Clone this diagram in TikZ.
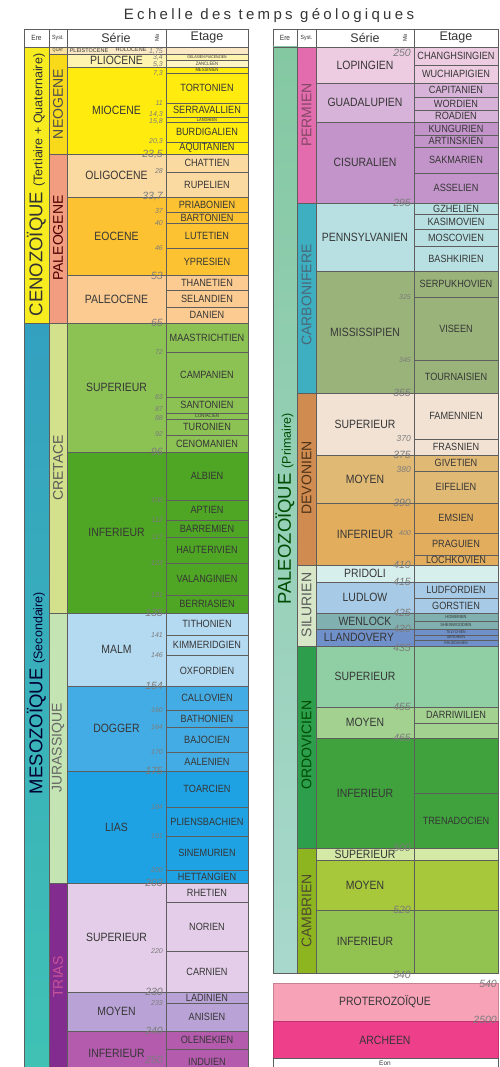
\documentclass[tikz,border=0pt]{standalone}
\usepackage{fontspec}
\setmainfont{Liberation Sans}
\newfontfamily\narrowf[FakeStretch=0.87]{Liberation Sans}
\newfontfamily\titlef[LetterSpace=22]{Liberation Sans}
\definecolor{lineC}{HTML}{5E5E5E}
\definecolor{txtC}{HTML}{363636}
\definecolor{numC}{HTML}{7C7C7C}
\definecolor{titleC}{HTML}{363636}
% left
\definecolor{eCen}{HTML}{F7EC1F}
\definecolor{eMesT}{HTML}{33A0C0}
\definecolor{eMesB}{HTML}{40C2B4}
\definecolor{sQuat}{HTML}{FBE1A0}
\definecolor{sNeo}{HTML}{F8DA1A}
\definecolor{sPaleo}{HTML}{F29C80}
\definecolor{sCret}{HTML}{D3E18C}
\definecolor{sJur}{HTML}{C4E4B4}
\definecolor{sTrias}{HTML}{822C90}
\definecolor{rQS}{HTML}{FBE9C6}
\definecolor{rPlio}{HTML}{FFF3B0}
\definecolor{rZan}{HTML}{FFF6C4}
\definecolor{rMio}{HTML}{FFEC0E}
\definecolor{rOlig}{HTML}{FBDAA2}
\definecolor{rEoc}{HTML}{FCC232}
\definecolor{rPaleoc}{HTML}{FBCB92}
\definecolor{rKs}{HTML}{8CC154}
\definecolor{rKi}{HTML}{4FA524}
\definecolor{rMalm}{HTML}{B4DAF2}
\definecolor{rDog}{HTML}{44ACE4}
\definecolor{rLias}{HTML}{1EA2E4}
\definecolor{rTs}{HTML}{E4CDE8}
\definecolor{rTm}{HTML}{B9A3D6}
\definecolor{rTi}{HTML}{B45BAE}
% right
\definecolor{ePalT}{HTML}{84C8A2}
\definecolor{ePalB}{HTML}{A8D8CC}
\definecolor{sPerm}{HTML}{E26CAE}
\definecolor{sCarb}{HTML}{3DAFC0}
\definecolor{sDev}{HTML}{D08B50}
\definecolor{sSil}{HTML}{D8E7C8}
\definecolor{sOrd}{HTML}{2C9E4C}
\definecolor{sCamb}{HTML}{8DB520}
\definecolor{rLop}{HTML}{EDCCE2}
\definecolor{rGua}{HTML}{D8B3D9}
\definecolor{rCis}{HTML}{C394CA}
\definecolor{rPen}{HTML}{B8E0E2}
\definecolor{rMis}{HTML}{9AB37A}
\definecolor{rDs}{HTML}{F1E2D4}
\definecolor{rDm}{HTML}{E0B974}
\definecolor{rDi}{HTML}{E2AE5E}
\definecolor{rPri}{HTML}{D7EFEC}
\definecolor{rLud}{HTML}{A7CBE6}
\definecolor{rWen}{HTML}{80B0AF}
\definecolor{rLla}{HTML}{7090CA}
\definecolor{rOs}{HTML}{8FCFA3}
\definecolor{rOm}{HTML}{A3D18F}
\definecolor{rOi}{HTML}{3FA23C}
\definecolor{rCs}{HTML}{D4E9A6}
\definecolor{rCm}{HTML}{A8C83C}
\definecolor{rCi}{HTML}{92C24F}
\definecolor{rProt}{HTML}{F7A2B7}
\definecolor{rArch}{HTML}{EE3F8B}

\newcounter{cellno}
\newcommand\cell[7]{\stepcounter{cellno}\filldraw[grid,fill=#5] (#1,#3) rectangle (#2,#4); \node[#7] (c\arabic{cellno}) at ({(#1+#2)/2},{(#3+#4)/2}) {#6};}
\newcommand\LS[4]{\cell{67}{166}{#1}{#2}{#3}{#4}{ser}}
\newcommand\LE[4]{\cell{166}{248}{#1}{#2}{#3}{#4}{etg}}
\newcommand\LT[5]{\cell{166}{248}{#1}{#2}{#3}{#4}{etg,font=\narrowf\fontsize{#5}{#5}\selectfont}}
\newcommand\RS[4]{\cell{316}{414}{#1}{#2}{#3}{#4}{ser}}
\newcommand\RE[4]{\cell{414}{498}{#1}{#2}{#3}{#4}{etg}}
\newcommand\RT[5]{\cell{414}{498}{#1}{#2}{#3}{#4}{etg,font=\narrowf\fontsize{#5}{#5}\selectfont}}
\newcommand\LN[2]{\stepcounter{cellno}\node[num] (n\arabic{cellno}) at (163,#1) {#2};}
\newcommand\LM[2]{\stepcounter{cellno}\node[numM] (n\arabic{cellno}) at (163,#1) {#2};}
\newcommand\RN[2]{\stepcounter{cellno}\node[num] (n\arabic{cellno}) at (411,#1) {#2};}
\newcommand\RQ[2]{\stepcounter{cellno}\node[numQ] (n\arabic{cellno}) at (411,#1) {#2};}
\newcommand\RM[2]{\stepcounter{cellno}\node[numM] (n\arabic{cellno}) at (411,#1) {#2};}

\tikzset{
  x=1pt, y=-1pt,
  grid/.style={draw=lineC, line width=0.55pt},
  ser/.style={font=\narrowf\fontsize{12}{12}\selectfont, text=txtC, inner sep=0pt},
  etg/.style={font=\narrowf\fontsize{10.5}{10.5}\selectfont, text=txtC, inner sep=0pt},
  num/.style={font=\itshape\fontsize{7}{7}\selectfont, text=numC, anchor=east, inner sep=0pt},
  numQ/.style={font=\itshape\fontsize{8.5}{8.5}\selectfont, text=numC, anchor=east, inner sep=0pt},
  numM/.style={font=\itshape\fontsize{10.5}{10.5}\selectfont, text=numC, anchor=east, inner sep=0pt},
  sys/.style={font=\fontsize{14}{14}\selectfont, rotate=90, inner sep=0pt},
  ere/.style={rotate=90, inner sep=0pt},
  hdr/.style={font=\fontsize{12.5}{12.5}\selectfont, text=txtC, inner sep=0pt},
  hdrs/.style={font=\narrowf\fontsize{7.5}{7.5}\selectfont, text=txtC, inner sep=0pt},
}

\begin{document}
\begin{tikzpicture}
\useasboundingbox (0,0) rectangle (499,1067);
\clip (0,0) rectangle (499,1067);
\fill[white] (0,0) rectangle (499,1067);

\node[font=\titlef\fontsize{15}{15}\selectfont, text=titleC, anchor=base] (title) at (269,19.5) {Echelle des temps géologiques};

% ================= LEFT TABLE =================
\filldraw[grid, fill=white] (24,29) rectangle (248,47);
\draw[grid] (49,29) -- (49,47) (67,29) -- (67,47) (166,29) -- (166,47);
\node[hdrs] (hl1) at (36.5,38) {Ere};
\node[hdrs, font=\narrowf\fontsize{6}{6}\selectfont] (hl2) at (58,38) {Syst.};
\node[hdr] (hl3) at (116,38) {Série};
\node[hdrs, rotate=90, font=\fontsize{5.5}{5.5}\selectfont] (hl4) at (157,38) {Ma};
\node[hdr] (hl5) at (207,38) {Etage};

% Ere
\filldraw[grid, fill=eCen] (24,47) rectangle (49,323);
\shade[top color=eMesT, bottom color=eMesB] (24,323) rectangle (49,1075);
\draw[grid] (24,323) rectangle (49,1075);
\node[ere, text=black!80] (cen) at (36.5,185) {\fontsize{18.5}{18.5}\selectfont CENOZOÏQUE\ \fontsize{12.5}{12.5}\selectfont(Tertiaire + Quaternaire)};
\node[ere, text=black!80!blue] (mes) at (36.5,693) {\fontsize{18.5}{18.5}\selectfont MESOZOÏQUE\ \fontsize{12.5}{12.5}\selectfont(Secondaire)};

% Syst
\filldraw[grid, fill=sQuat] (49,47) rectangle (67,54);
\node[font=\narrowf\fontsize{4.5}{4.5}\selectfont, text=txtC, inner sep=0pt] (quat) at (58,50.5) {QUAT};
\filldraw[grid, fill=sNeo] (49,54) rectangle (67,154);
\node[sys, text=black!70] (neo) at (58,104) {NEOGENE};
\filldraw[grid, fill=sPaleo] (49,154) rectangle (67,323);
\node[sys, text=black!70!red] (pal) at (58,238) {PALEOGENE};
\filldraw[grid, fill=sCret] (49,323) rectangle (67,613);
\node[sys, text=black!65] (cre) at (58,468) {CRETACE};
\filldraw[grid, fill=sJur] (49,613) rectangle (67,883);
\node[sys, text=black!60] (jur) at (58,748) {JURASSIQUE};
\filldraw[grid, fill=sTrias] (49,883) rectangle (67,1075);
\node[sys, text=magenta!50!violet!80] (tri) at (58,977) {TRIAS};

% Serie
\LS{47}{54}{rQS}{}
\node[font=\fontsize{5.5}{5.5}\selectfont, text=txtC, inner sep=0pt] (ple) at (89,50.8) {PLEISTOCENE};
\node[font=\fontsize{5.5}{5.5}\selectfont, text=txtC, inner sep=0pt] (hol) at (131,49.8) {HOLOCENE};
\LS{54}{67}{rPlio}{PLIOCENE}
\LS{67}{154}{rMio}{MIOCENE}
\LS{154}{197}{rOlig}{OLIGOCENE}
\LS{197}{275}{rEoc}{EOCENE}
\LS{275}{323}{rPaleoc}{PALEOCENE}
\LS{323}{452}{rKs}{SUPERIEUR}
\LS{452}{613}{rKi}{INFERIEUR}
\LS{613}{686}{rMalm}{MALM}
\LS{686}{771}{rDog}{DOGGER}
\LS{771}{883}{rLias}{LIAS}
\LS{883}{992}{rTs}{SUPERIEUR}
\LS{992}{1031}{rTm}{MOYEN}
\LS{1031}{1075}{rTi}{INFERIEUR}

% Etages
\LE{47}{54}{rQS}{}
\LT{54}{60}{rPlio}{GELASIEN PIACENZIEN}{4}
\LT{60}{67}{rZan}{ZANCLEEN}{4.8}
\LT{67}{73}{rMio}{MESSINIEN}{4.8}
\LE{73}{103}{rMio}{TORTONIEN}
\LE{103}{117}{rMio}{SERRAVALLIEN}
\LT{117}{122}{rMio}{LANGHIEN}{4.5}
\LE{122}{142}{rMio}{BURDIGALIEN}
\LE{142}{154}{rMio}{AQUITANIEN}
\LE{154}{172}{rOlig}{CHATTIEN}
\LE{172}{197}{rOlig}{RUPELIEN}
\LE{197}{212}{rEoc}{PRIABONIEN}
\LE{212}{223}{rEoc}{BARTONIEN}
\LE{223}{248}{rEoc}{LUTETIEN}
\LE{248}{275}{rEoc}{YPRESIEN}
\LE{275}{290}{rPaleoc}{THANETIEN}
\LE{290}{307}{rPaleoc}{SELANDIEN}
\LE{307}{323}{rPaleoc}{DANIEN}
\LE{323}{352}{rKs}{MAASTRICHTIEN}
\LE{352}{397}{rKs}{CAMPANIEN}
\LE{397}{413}{rKs}{SANTONIEN}
\LT{413}{419}{rKs}{CONIACIEN}{5}
\LE{419}{435}{rKs}{TURONIEN}
\LE{435}{452}{rKs}{CENOMANIEN}
\LE{452}{500}{rKi}{ALBIEN}
\LE{500}{520}{rKi}{APTIEN}
\LE{520}{537}{rKi}{BARREMIEN}
\LE{537}{563}{rKi}{HAUTERIVIEN}
\LE{563}{595}{rKi}{VALANGINIEN}
\LE{595}{613}{rKi}{BERRIASIEN}
\LE{613}{635}{rMalm}{TITHONIEN}
\LE{635}{655}{rMalm}{KIMMERIDGIEN}
\LE{655}{686}{rMalm}{OXFORDIEN}
\LE{686}{710}{rDog}{CALLOVIEN}
\LE{710}{727}{rDog}{BATHONIEN}
\LE{727}{752}{rDog}{BAJOCIEN}
\LE{752}{771}{rDog}{AALENIEN}
\LE{771}{807}{rLias}{TOARCIEN}
\LE{807}{836}{rLias}{PLIENSBACHIEN}
\LE{836}{870}{rLias}{SINEMURIEN}
\LE{870}{883}{rLias}{HETTANGIEN}
\LE{883}{902}{rTs}{RHETIEN}
\LE{902}{951}{rTs}{NORIEN}
\LE{951}{992}{rTs}{CARNIEN}
\LE{992}{1003}{rTm}{LADINIEN}
\LE{1003}{1031}{rTm}{ANISIEN}
\LE{1031}{1049}{rTi}{OLENEKIEN}
\LE{1049}{1075}{rTi}{INDUIEN}

% numbers left
\LN{52}{1,75}
\LN{58}{3,4}
\LN{65}{5,3}
\LN{74}{7,3}
\LN{103}{11}
\LN{115}{14,3}
\LN{122}{15,8}
\LN{142}{20,3}
\LM{155}{23,5}
\LN{171}{28}
\LM{197}{33,7}
\LN{211}{37}
\LN{223}{40}
\LN{248}{46}
\LM{276}{53}
\LM{323}{65}
\LN{352}{72}
\LN{397}{83}
\LN{409}{87}
\LN{418}{88}
\LN{434}{92}
\LM{452}{96}
\LN{500}{108}
\LN{520}{112}
\LN{537}{117}
\LN{563}{123}
\LN{595}{131}
\LM{613}{135}
\LN{635}{141}
\LN{655}{146}
\LM{686}{154}
\LN{710}{160}
\LN{727}{164}
\LN{752}{170}
\LM{771}{175}
\LN{807}{184}
\LN{836}{191}
\LN{870}{200}
\LM{883}{203}
\LN{951}{220}
\LM{992}{230}
\LN{1003}{233}
\LM{1031}{240}
\LM{1060}{250}

% ================= RIGHT TABLE =================
\filldraw[grid, fill=white] (273,29) rectangle (498,47);
\draw[grid] (297,29) -- (297,47) (316,29) -- (316,47) (414,29) -- (414,47);
\node[hdrs] (hr1) at (285,38) {Ere};
\node[hdrs, font=\narrowf\fontsize{6}{6}\selectfont] (hr2) at (306.5,38) {Syst.};
\node[hdr] (hr3) at (365,38) {Série};
\node[hdrs, rotate=90, font=\fontsize{5.5}{5.5}\selectfont] (hr4) at (405,38) {Ma};
\node[hdr] (hr5) at (456,38) {Etage};

% Ere
\shade[top color=ePalT, bottom color=ePalB] (273,47) rectangle (297,973);
\draw[grid] (273,47) rectangle (297,973);
\node[ere, text=black!70!green] (palz) at (285,509) {\fontsize{18.5}{18.5}\selectfont PALEOZOÏQUE\ \fontsize{12.5}{12.5}\selectfont(Primaire)};

% Syst
\filldraw[grid, fill=sPerm] (297,47) rectangle (316,203);
\node[sys, text=black!55!magenta] (perm) at (306.5,115) {PERMIEN};
\filldraw[grid, fill=sCarb] (297,203) rectangle (316,393);
\node[sys, text=black!60!cyan] (carb) at (306.5,295) {CARBONIFERE};
\filldraw[grid, fill=sDev] (297,393) rectangle (316,565);
\node[sys, text=black!60!brown] (dev) at (306.5,478) {DEVONIEN};
\filldraw[grid, fill=sSil] (297,565) rectangle (316,646);
\node[sys, text=black!65] (sil) at (306.5,605) {SILURIEN};
\filldraw[grid, fill=sOrd] (297,646) rectangle (316,848);
\node[sys, text=black!70!green] (ord) at (306.5,745) {ORDOVICIEN};
\filldraw[grid, fill=sCamb] (297,848) rectangle (316,973);
\node[sys, text=black!60!olive] (camb) at (306.5,911) {CAMBRIEN};

% Serie
\RS{47}{83}{rLop}{LOPINGIEN}
\RS{83}{122}{rGua}{GUADALUPIEN}
\RS{122}{203}{rCis}{CISURALIEN}
\RS{203}{271}{rPen}{PENNSYLVANIEN}
\RS{271}{393}{rMis}{MISSISSIPIEN}
\RS{393}{455}{rDs}{SUPERIEUR}
\RS{455}{503}{rDm}{MOYEN}
\RS{503}{565}{rDi}{INFERIEUR}
\RS{565}{582}{rPri}{PRIDOLI}
\RS{582}{613}{rLud}{LUDLOW}
\RS{613}{629}{rWen}{WENLOCK}
\stepcounter{cellno}\filldraw[grid,fill=rLla] (316,629) rectangle (414,646);
\node[ser] (llan) at (359,637.5) {LLANDOVERY};
\RS{646}{707}{rOs}{SUPERIEUR}
\RS{707}{738}{rOm}{MOYEN}
\RS{738}{848}{rOi}{INFERIEUR}
\RS{848}{860}{rCs}{SUPERIEUR}
\RS{860}{910}{rCm}{MOYEN}
\RS{910}{973}{rCi}{INFERIEUR}

% Etages
\RE{47}{65}{rLop}{CHANGHSINGIEN}
\RE{65}{83}{rLop}{WUCHIAPIGIEN}
\RE{83}{97}{rGua}{CAPITANIEN}
\RE{97}{110}{rGua}{WORDIEN}
\RE{110}{122}{rGua}{ROADIEN}
\RE{122}{135}{rCis}{KUNGURIEN}
\RE{135}{147}{rCis}{ARTINSKIEN}
\RE{147}{173}{rCis}{SAKMARIEN}
\RE{173}{203}{rCis}{ASSELIEN}
\RE{203}{214}{rPen}{GZHELIEN}
\RE{214}{229}{rPen}{KASIMOVIEN}
\RE{229}{246}{rPen}{MOSCOVIEN}
\RE{246}{271}{rPen}{BASHKIRIEN}
\RE{271}{297}{rMis}{SERPUKHOVIEN}
\RE{297}{360}{rMis}{VISEEN}
\RE{360}{393}{rMis}{TOURNAISIEN}
\RE{393}{439}{rDs}{FAMENNIEN}
\RE{439}{455}{rDs}{FRASNIEN}
\RE{455}{471}{rDm}{GIVETIEN}
\RE{471}{503}{rDm}{EIFELIEN}
\RE{503}{533}{rDi}{EMSIEN}
\RE{533}{555}{rDi}{PRAGUIEN}
\RE{555}{565}{rDi}{LOCHKOVIEN}
\RE{565}{582}{rPri}{}
\RE{582}{598}{rLud}{LUDFORDIEN}
\RE{598}{613}{rLud}{GORSTIEN}
\RT{613}{621}{rWen}{HOMERIEN}{4.5}
\RT{621}{629}{rWen}{SHEINWOODIEN}{4.5}
\RT{629}{635}{rLla}{TELYCHIEN}{4}
\RT{635}{640}{rLla}{AERONIEN}{4}
\RT{640}{646}{rLla}{RHUDDANIEN}{4}
\RE{646}{707}{rOs}{}
\RE{707}{723}{rOm}{DARRIWILIEN}
\RE{723}{738}{rOm}{}
\RE{738}{793}{rOi}{}
\RE{793}{848}{rOi}{TRENADOCIEN}
\RE{848}{860}{rCs}{}
\RE{860}{910}{rCm}{}
\RE{910}{973}{rCi}{}

% numbers right
\RM{53}{250}
\RM{203}{295}
\RN{297}{325}
\RN{360}{345}
\RM{393}{355}
\RQ{439}{370}
\RM{455}{375}
\RQ{470}{380}
\RM{503}{390}
\RN{533}{400}
\RM{565}{410}
\RM{582}{415}
\RM{613}{425}
\RM{629}{430}
\RM{648}{435}
\RM{707}{455}
\RM{738}{465}
\RM{848}{500}
\RM{910}{520}
\RM{975}{540}

% Precambrian
\filldraw[grid, draw=rProt!80!black, fill=rProt] (273,983) rectangle (498,1021);
\node[ser] (prot) at (385,1002) {PROTEROZOÏQUE};
\filldraw[grid, draw=rArch!80!black, fill=rArch] (273,1021) rectangle (498,1058);
\node[ser] (arch) at (385,1040) {ARCHEEN};
\filldraw[grid, fill=white] (273,1058) rectangle (498,1075);
\node[font=\fontsize{6.5}{6.5}\selectfont, text=txtC, inner sep=0pt] (eon) at (385,1063) {Eon};
\stepcounter{cellno}\node[numM, anchor=east] (p540) at (497,984) {540};
\stepcounter{cellno}\node[numM, anchor=east] (p2500) at (497,1020) {2500};
\end{tikzpicture}
\end{document}
